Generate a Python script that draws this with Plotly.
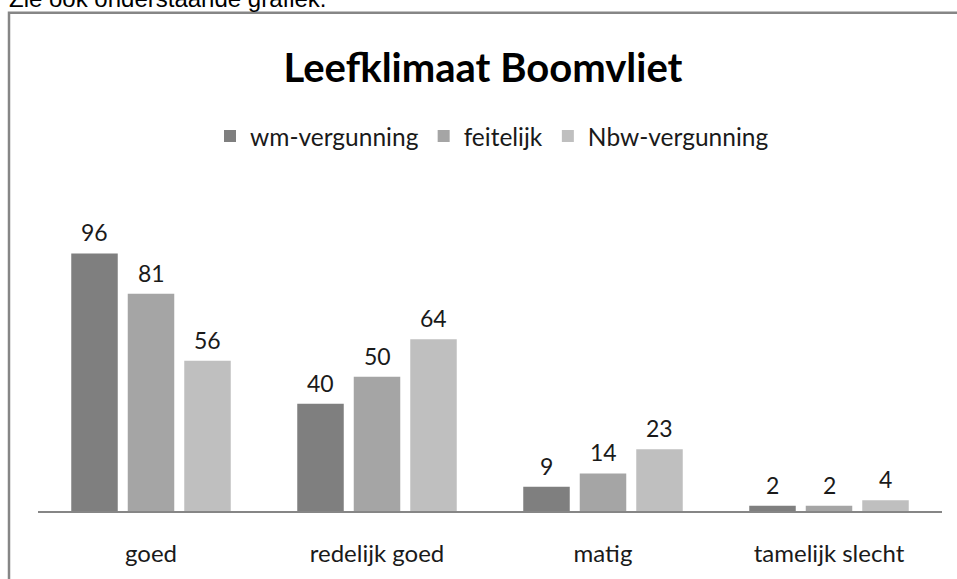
import plotly.graph_objects as go

categories = ["goed", "redelijk goed", "matig", "tamelijk slecht"]
series_names = ["wm-vergunning", "feitelijk", "Nbw-vergunning"]
wm_vergunning = [96, 40, 9, 2]
feitelijk = [81, 50, 14, 2]
nbw_vergunning = [56, 64, 23, 4]
colors = ["#7f7f7f", "#a5a5a5", "#bfbfbf"]

series_values = [wm_vergunning, feitelijk, nbw_vergunning]

W, H = 957, 579
L, R, T, B = 38, 15, 189, 61
plot_w = W - L - R
plot_h = H - T - B
ymax = 120

def px_x(px):
    return (px - L) / plot_w

def px_y(py):
    return (H - B - py) / plot_h

font_family = "Lato, 'Open Sans', sans-serif"

fig = go.Figure()
for name, vals, col in zip(series_names, series_values, colors):
    fig.add_trace(go.Bar(
        x=categories, y=vals, name=name,
        marker=dict(color=col, line=dict(width=0)),
    ))

# data labels
slot = 56.5
offsets = [-slot, 0, slot]
for vals, off in zip(series_values, offsets):
    for c, v in zip(categories, vals):
        fig.add_annotation(
            x=c, y=v, xref="x", yref="y", text=str(v), showarrow=False,
            xshift=off, yshift=21, yanchor="middle",
            font=dict(family=font_family, size=23, color="#1a1a1a"),
        )

# cropped text above the chart box
fig.add_annotation(
    x=px_x(7), y=px_y(-6), xref="paper", yref="paper",
    text="Zie ook onderstaande grafiek.", showarrow=False,
    xanchor="left", yanchor="middle",
    font=dict(family="Liberation Sans, Arial, sans-serif", size=24, color="#000000"),
)

# chart border
fig.add_shape(
    type="rect", xref="paper", yref="paper",
    x0=px_x(9), x1=px_x(975), y0=px_y(600), y1=px_y(9),
    line=dict(color="#868686", width=2.5), fillcolor="rgba(0,0,0,0)", layer="above",
)

fig.update_layout(
    width=W, height=H,
    margin=dict(l=L, r=R, t=T, b=B, pad=0),
    paper_bgcolor="white", plot_bgcolor="white",
    barmode="group", bargap=0.25, bargroupgap=0.177,
    title=dict(
        text="<b>Leefklimaat Boomvliet</b>",
        x=483 / W, xanchor="center", y=1 - 68 / H, yanchor="middle",
        font=dict(family=font_family, size=40, color="#000000"),
    ),
    legend=dict(
        orientation="h", x=px_x(492), xanchor="center", y=px_y(135), yanchor="middle",
        font=dict(family=font_family, size=24.5, color="#1a1a1a"),
        bgcolor="rgba(0,0,0,0)",
    ),
    showlegend=True,
    xaxis=dict(
        showline=True, linecolor="#868686", linewidth=1.5,
        ticks="", showgrid=False, zeroline=False,
        ticklabelstandoff=20,
        tickfont=dict(family=font_family, size=24, color="#1a1a1a"),
    ),
    yaxis=dict(
        range=[0, ymax], visible=False, showgrid=False, zeroline=False,
    ),
)

fig.write_html(
    "out.html",
    config={"displayModeBar": False},
    post_script="document.body.style.margin='0';document.body.style.padding='0';",
)
